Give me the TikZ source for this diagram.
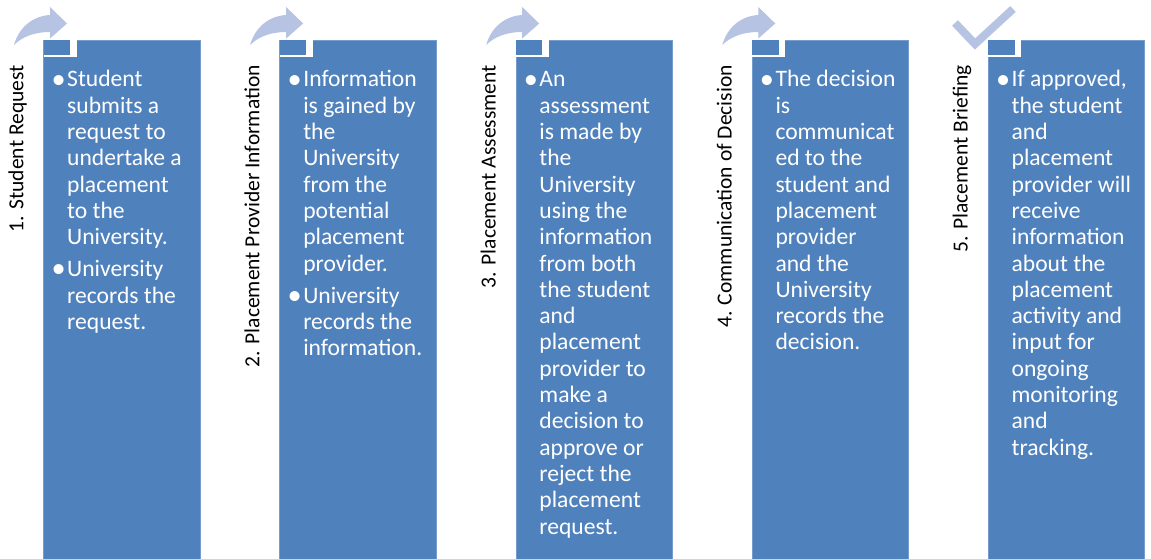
\documentclass[tikz,border=0pt]{standalone}
\usepackage{fontspec}
\setmainfont{Carlito}
\definecolor{boxblue}{RGB}{79,129,189}
\definecolor{arrowlav}{RGB}{183,195,226}
\definecolor{boxedge}{RGB}{118,156,206}
\newcommand\bitem{\leavevmode\llap{\raisebox{-1.2pt}{\scalebox{1.2}{\textbullet}}\hspace{1.5pt}}}
\newcommand\pgap{\par\vspace{5.7pt}}
\begin{document}
\begin{tikzpicture}[x=1pt,y=-1pt,
  colbox/.style={fill=boxblue,draw=boxedge,line width=0.6pt,minimum width=156.5pt,minimum height=520pt,anchor=north west,inner sep=0pt},
  tabgap/.style={fill=white,minimum width=33pt,minimum height=17.5pt,anchor=north west,inner sep=0pt},
  tabbox/.style={fill=boxblue,minimum width=26.7pt,minimum height=15.3pt,anchor=north west,inner sep=0pt},
  titletext/.style={rotate=90,anchor=base east,inner sep=0pt,font=\fontsize{21.5}{26}\selectfont,text=black},
  bodytext/.style={anchor=base west,inner sep=0pt,text=white,font=\fontsize{23.6}{26.3}\selectfont},
  curvearrow/.style={fill=arrowlav},
  checkmark/.style={draw=arrowlav,line width=8pt,line join=miter}]
\useasboundingbox[fill=white] (0,0) rectangle (1151,559);

% ---------- column boxes ----------
\foreach \i/\xl in {1/43.3,2/279.4,3/515.5,4/751.6,5/987.7}{
  \node[colbox] (c\i) at (\xl,40) {};
  \node[tabgap] (g\i) at (\xl,39.5) {};
  \node[tabbox] (s\i) at (\xl,40) {};
}

% ---------- curved arrows ----------
\foreach \dx in {0,236.1,472.2,708.3}{
  \fill[curvearrow,xshift=\dx] (14,45) .. controls (19,27) and (33,16) .. (50,15)
     -- (50,7) -- (67,23.5) -- (50,38.5) -- (50,32)
     .. controls (34,32) and (22,37) .. (14,45) -- cycle;
}
% ---------- check mark ----------
\coordinate (k1) at (955,23);
\coordinate (k2) at (975,44);
\coordinate (k3) at (1013,9);
\draw[checkmark] (k1) -- (k2) -- (k3);

% ---------- titles ----------
\node[titletext] (t1) at (23.3,65) {1. Student Request};
\node[titletext] (t2) at (259.4,65) {2. Placement Provider Information};
\node[titletext] (t3) at (495.5,65) {3. Placement Assessment};
\node[titletext] (t4) at (731.6,65) {4. Communication of Decision};
\node[titletext] (t5) at (967.7,65) {5. Placement Brie{}fing};

% ---------- bodies ----------
\node[bodytext] (b1) at (67,87) {\parbox[t]{200pt}{\raggedright
\bitem Student\\ submits a\\ request to\\ undertake a\\ placement\\ to the\\ University.\pgap
\bitem University\\ records the\\ request.}};

\node[bodytext] (b2) at (303.1,87) {\parbox[t]{200pt}{\raggedright
\bitem Information\\ is gained by\\ the\\ University\\ from the\\ potential\\ placement\\ provider.\pgap
\bitem University\\ records the\\ information.}};

\node[bodytext] (b3) at (539.2,87) {\parbox[t]{200pt}{\raggedright
\bitem An\\ assessment\\ is made by\\ the\\ University\\ using the\\ information\\ from both\\ the student\\ and\\ placement\\ provider to\\ make a\\ decision to\\ approve or\\ reject the\\ placement\\ request.}};

\node[bodytext] (b4) at (775.3,87) {\parbox[t]{200pt}{\raggedright
\bitem The decision\\ is\\ communicat\\ ed to the\\ student and\\ placement\\ provider\\ and the\\ University\\ records the\\ decision.}};

\node[bodytext] (b5) at (1011.4,87) {\parbox[t]{200pt}{\raggedright
\bitem If approved,\\ the student\\ and\\ placement\\ provider will\\ receive\\ information\\ about the\\ placement\\ activity and\\ input for\\ ongoing\\ monitoring\\ and\\ tracking.}};
\end{tikzpicture}
\end{document}
